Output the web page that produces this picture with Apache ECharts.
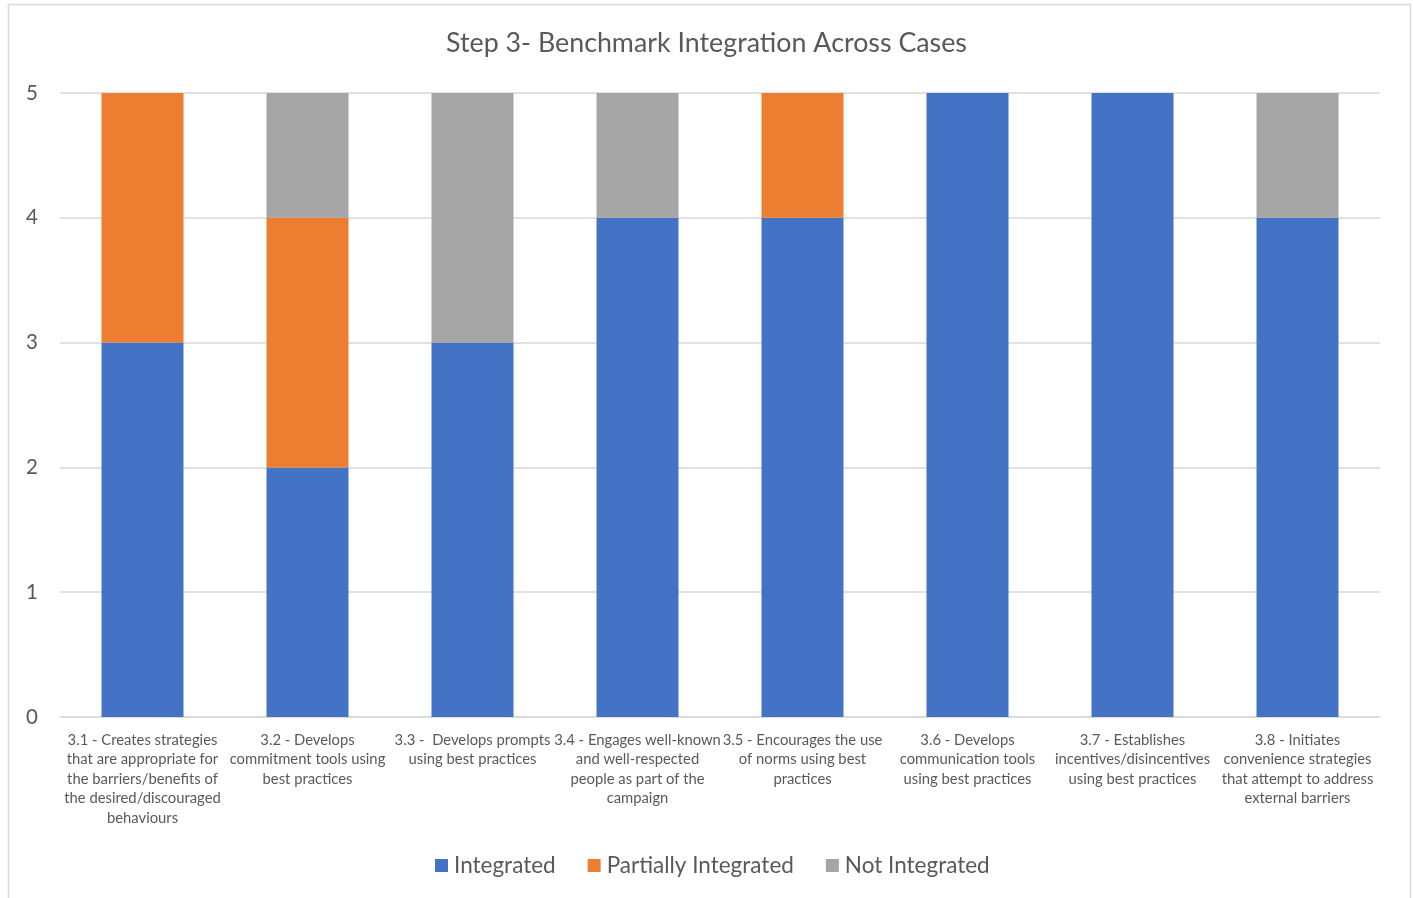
<!DOCTYPE html>
<html>
<head>
<meta charset="utf-8">
<script src="https://cdn.jsdelivr.net/npm/echarts@6/dist/echarts.min.js"></script>
<style>
html,body{margin:0;padding:0;background:#fff;}
#chart{width:1413px;height:898px;}
</style>
</head>
<body>
<div id="chart"></div>
<script>
var categories = [
  "3.1 - Creates strategies\nthat are appropriate for\nthe barriers/benefits of\nthe desired/discouraged\nbehaviours",
  "3.2 - Develops\ncommitment tools using\nbest practices",
  "3.3 -  Develops prompts\nusing best practices",
  "3.4 - Engages well-known\nand well-respected\npeople as part of the\ncampaign",
  "3.5 - Encourages the use\nof norms using best\npractices",
  "3.6 - Develops\ncommunication tools\nusing best practices",
  "3.7 - Establishes\nincentives/disincentives\nusing best practices",
  "3.8 - Initiates\nconvenience strategies\nthat attempt to address\nexternal barriers"
];
var integrated = [3, 2, 3, 4, 4, 5, 5, 4];
var partiallyIntegrated = [2, 2, 0, 0, 1, 0, 0, 0];
var notIntegrated = [0, 1, 2, 1, 0, 0, 0, 1];
var titleText = "Step 3- Benchmark Integration Across Cases";

var FONT = "Lato, 'Open Sans', sans-serif";
var chart = echarts.init(document.getElementById('chart'), null, {renderer: 'canvas'});
function mk(name, data, color) {
  return {
    name: name, type: 'bar', stack: 'total', data: data,
    barWidth: 82,
    itemStyle: {color: color},
    emphasis: {disabled: true}
  };
}
chart.setOption({
  animation: false,
  backgroundColor: '#fff',
  graphic: [{
    type: 'rect', left: 6, top: 2, silent: true,
    shape: {width: 1402, height: 910},
    style: {fill: 'none', stroke: '#d9d9d9', lineWidth: 1.5}
  }],
  title: {
    text: titleText, left: 'center', top: 25,
    textStyle: {fontFamily: FONT, fontSize: 26.8, fontWeight: 'normal', color: '#595959'}
  },
  legend: {
    bottom: 21, left: 435, itemWidth: 13, itemHeight: 13, itemGap: 32,
    icon: 'rect', padding: 0,
    textStyle: {fontFamily: FONT, fontSize: 22.5, color: '#595959', padding: [0, 0, 0, 1]},
    data: ['Integrated', 'Partially Integrated', 'Not Integrated']
  },
  grid: {left: 60, right: 33, top: 93, bottom: 181, containLabel: false},
  xAxis: {
    type: 'category', data: categories,
    axisLine: {lineStyle: {color: '#d9d9d9', width: 1.5}},
    axisTick: {show: false},
    axisLabel: {
      interval: 0, fontFamily: FONT, fontSize: 14.8, color: '#595959',
      lineHeight: 19.5, margin: 13, align: 'center'
    }
  },
  yAxis: {
    type: 'value', min: 0, max: 5, interval: 1,
    axisLine: {show: false}, axisTick: {show: false},
    splitLine: {lineStyle: {color: '#d9d9d9', width: 1.5}},
    axisLabel: {fontFamily: FONT, fontSize: 20.5, color: '#595959', margin: 22}
  },
  series: [
    mk('Integrated', integrated, '#4472c4'),
    mk('Partially Integrated', partiallyIntegrated, '#ed7d31'),
    mk('Not Integrated', notIntegrated, '#a5a5a5')
  ]
});
</script>
</body>
</html>
